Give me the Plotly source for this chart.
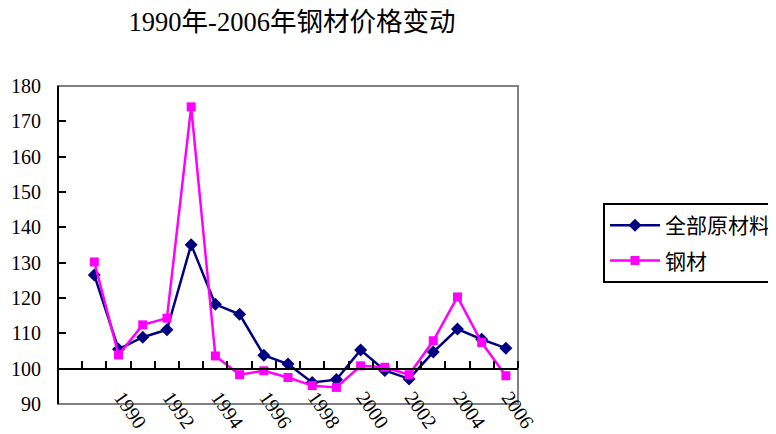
import plotly.graph_objects as go

# ---- data ----
years = list(range(1989, 2007))
all_materials = [126.5, 105.5, 108.9, 111.0, 135.1, 118.2, 115.4, 103.8, 101.3,
                 96.1, 96.9, 105.3, 99.5, 97.1, 104.7, 111.2, 108.3, 105.8]
steel = [130.2, 103.9, 112.4, 114.3, 174.1, 103.6, 98.3, 99.4, 97.5,
         95.2, 94.7, 100.8, 100.4, 98.3, 107.9, 120.3, 107.4, 98.0]
tick_years = [1990, 1992, 1994, 1996, 1998, 2000, 2002, 2004, 2006]
tick_labels = ["1990", "1992", "1994", "1996", "1998", "2000", "2002", "2004", "2006"]
series_names = ["全部原材料", "钢材"]
title_text = "1990年-2006年钢材价格变动"

FONT = "'Liberation Serif', 'Times New Roman', 'DejaVu Serif', 'Noto Sans CJK SC', serif"

fig = go.Figure()
fig.add_trace(go.Scatter(
    x=years, y=all_materials, name=series_names[0], mode="lines+markers",
    line=dict(color="#000080", width=2.5),
    marker=dict(symbol="diamond", size=10, color="#000080"),
    legendgroup="a"))
fig.add_trace(go.Scatter(
    x=years, y=steel, name=series_names[1], mode="lines+markers",
    line=dict(color="#FF00FF", width=2.5),
    marker=dict(symbol="square", size=9, color="#FF00FF"),
    legendgroup="b"))

fig.add_shape(type="rect", xref="paper", yref="paper", x0=0, x1=1, y0=0, y1=1,
              line=dict(color="#808080", width=2), layer="below")

fig.update_layout(
    width=776, height=434,
    margin=dict(l=50, r=266, t=78, b=38),
    paper_bgcolor="white", plot_bgcolor="white",
    font=dict(family=FONT, size=20, color="black"),
    title=dict(text=title_text, x=284 / 776, xanchor="center", xref="container",
               y=1 - 14 / 434, yanchor="middle", yref="container",
               font=dict(family=FONT, size=26.5, color="black")),
    showlegend=True,
    legend=dict(xref="container", yref="container",
                x=595 / 776, y=1 - 195 / 434, xanchor="left", yanchor="top",
                bordercolor="black", borderwidth=2, bgcolor="white",
                font=dict(family=FONT, size=21),
                tracegroupgap=5, traceorder="grouped", itemwidth=50),
    xaxis=dict(range=[1987.5, 2006.5], anchor="free", position=10 / 90,
               automargin=False,
               showline=True, linecolor="black", linewidth=2,
               tickmode="array", tickvals=tick_years, ticktext=tick_labels,
               ticks="", tickangle=55, ticklabelstandoff=8, ticklabelshift=3,
               tickfont=dict(family=FONT, size=20),
               showgrid=False, zeroline=False,
               minor=dict(ticks="inside", tickmode="linear", tick0=1988.5, dtick=1,
                          ticklen=7, tickwidth=2, tickcolor="black", showgrid=False)),
    yaxis=dict(range=[90, 180], dtick=10, anchor="free", position=0,
               automargin=False,
               showline=True, linecolor="black", linewidth=2,
               ticks="inside", ticklen=7, tickwidth=2, tickcolor="black",
               ticklabelstandoff=12,
               tickfont=dict(family=FONT, size=20),
               showgrid=False, zeroline=False),
)

fig.write_html("out.html")
